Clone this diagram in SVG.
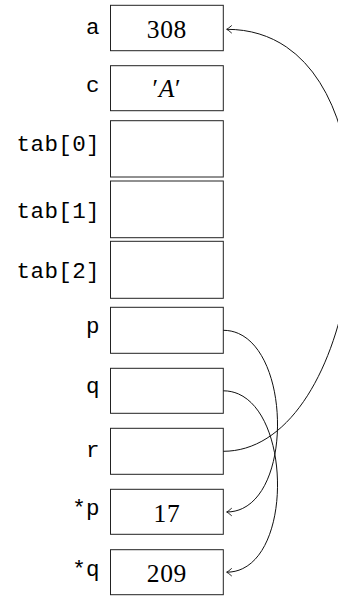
<svg xmlns="http://www.w3.org/2000/svg" width="338" height="597" viewBox="0 0 338 597">
<style>
.box{fill:#fff;stroke:#222;stroke-width:1}
.lbl{font-family:"Liberation Mono","DejaVu Sans Mono",monospace;font-size:22.5px;letter-spacing:0.4px;text-anchor:end;fill:#000}
.val{font-family:"Liberation Serif","DejaVu Serif",serif;font-size:25.5px;letter-spacing:0.6px;text-anchor:middle;fill:#000}
.wire{fill:none;stroke:#111;stroke-width:1;marker-end:url(#arr)}
</style>
<defs>
<marker id="arr" markerUnits="userSpaceOnUse" markerWidth="12" markerHeight="12" refX="0" refY="0" orient="auto" overflow="visible">
<path d="M -4.8,-3.6 Q -1.6,-0.8 0,0 Q -1.6,0.8 -4.8,3.6" fill="none" stroke="#111" stroke-width="0.9" stroke-linecap="round"/>
</marker>
</defs>
<g id="node-a"><rect class="box" x="110.5" y="5.3" width="112.8" height="45.4"/><text class="lbl" x="100" y="34.3">a</text><text class="val" x="166.9" y="37.8">308</text></g>
<g id="node-c"><rect class="box" x="110.5" y="65.7" width="112.8" height="45"/><text class="lbl" x="100" y="91.6">c</text><text class="val" x="166.9" y="96.5">′<tspan font-style="italic">A</tspan>′</text></g>
<g id="node-tab0"><rect class="box" x="110.5" y="120.7" width="112.8" height="56.3"/><text class="lbl" x="100" y="150.5">tab[0]</text></g>
<g id="node-tab1"><rect class="box" x="110.5" y="181" width="112.8" height="56.7"/><text class="lbl" x="100" y="218.3">tab[1]</text></g>
<g id="node-tab2"><rect class="box" x="110.5" y="241.3" width="112.8" height="57"/><text class="lbl" x="100" y="278.3">tab[2]</text></g>
<g id="node-p"><rect class="box" x="110.5" y="307.3" width="112.8" height="46"/><text class="lbl" x="100" y="333">p</text></g>
<g id="node-q"><rect class="box" x="110.5" y="368.3" width="112.8" height="45"/><text class="lbl" x="100" y="393">q</text></g>
<g id="node-r"><rect class="box" x="110.5" y="428.3" width="112.8" height="46"/><text class="lbl" x="100" y="456.7">r</text></g>
<g id="node-starp"><rect class="box" x="110.5" y="489.3" width="112.8" height="45"/><text class="lbl" x="100" y="515">*p</text><text class="val" x="166.9" y="521.6">17</text></g>
<g id="node-starq"><rect class="box" x="110.5" y="549.7" width="112.8" height="45"/><text class="lbl" x="100" y="575.5">*q</text><text class="val" x="166.9" y="581.9">209</text></g>
<g id="connectors">
<path class="wire" d="M 223.3,451.3 C 373,451.3 416,29.3 226.7,29.3"/>
<path class="wire" d="M 223.3,330.3 C 293.3,330.3 296.7,512 226.7,512"/>
<path class="wire" d="M 223.3,390.8 C 293.3,390.8 296.7,572.2 226.7,572.2"/>
</g>
</svg>
